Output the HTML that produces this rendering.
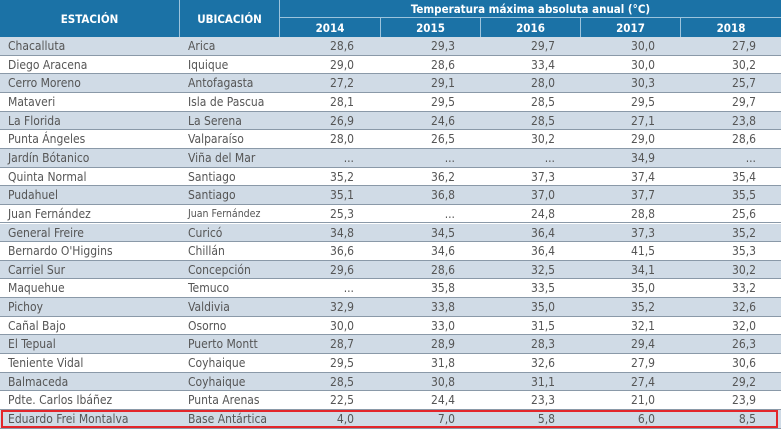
<!DOCTYPE html>
<html><head><meta charset="utf-8"><style>
body{margin:0;width:784px;height:431px;background:#fff;overflow:hidden;font-family:"DejaVu Sans Condensed","Liberation Sans",sans-serif;}
#t{position:absolute;left:0;top:0;width:784px;height:431px;}
.h{position:absolute;background:#1b72a6;color:#fff;font-weight:bold;font-size:11.5px;display:flex;align-items:center;justify-content:center;box-sizing:border-box;}
.r{position:absolute;left:0;width:781px;height:18.65px;box-sizing:border-box;border-bottom:1px solid #8a99a8;font-size:12px;color:#555;}
.r.s{background:#d0dbe6;}
.r span{position:absolute;top:2px;white-space:nowrap;}
.n{text-align:right;width:80px;}
</style></head><body><div id="t">
<div class="h" style="left:0;top:0;width:180px;height:37px;border-right:1px solid #9cc3dc">ESTACIÓN</div>
<div class="h" style="left:180px;top:0;width:100px;height:37px;border-right:1px solid #9cc3dc">UBICACIÓN</div>
<div class="h" style="left:280px;top:0;width:501px;height:18px;border-bottom:1px solid #9cc3dc">Temperatura máxima absoluta anual (°C)</div>
<div class="h" style="left:280px;top:18px;width:101px;height:19px;border-right:1px solid #9cc3dc">2014</div>
<div class="h" style="left:381px;top:18px;width:100px;height:19px;border-right:1px solid #9cc3dc">2015</div>
<div class="h" style="left:481px;top:18px;width:100px;height:19px;border-right:1px solid #9cc3dc">2016</div>
<div class="h" style="left:581px;top:18px;width:100px;height:19px;border-right:1px solid #9cc3dc">2017</div>
<div class="h" style="left:681px;top:18px;width:100px;height:19px;">2018</div>
<div id="rows"></div>
</div>
<script>
var d=[["Chacalluta","Arica","28,6","29,3","29,7","30,0","27,9"],
["Diego Aracena","Iquique","29,0","28,6","33,4","30,0","30,2"],
["Cerro Moreno","Antofagasta","27,2","29,1","28,0","30,3","25,7"],
["Mataveri","Isla de Pascua","28,1","29,5","28,5","29,5","29,7"],
["La Florida","La Serena","26,9","24,6","28,5","27,1","23,8"],
["Punta Ángeles","Valparaíso","28,0","26,5","30,2","29,0","28,6"],
["Jardín Bótanico","Viña del Mar","...","...","...","34,9","..."],
["Quinta Normal","Santiago","35,2","36,2","37,3","37,4","35,4"],
["Pudahuel","Santiago","35,1","36,8","37,0","37,7","35,5"],
["Juan Fernández","Juan Fernández","25,3","...","24,8","28,8","25,6"],
["General Freire","Curicó","34,8","34,5","36,4","37,3","35,2"],
["Bernardo O'Higgins","Chillán","36,6","34,6","36,4","41,5","35,3"],
["Carriel Sur","Concepción","29,6","28,6","32,5","34,1","30,2"],
["Maquehue","Temuco","...","35,8","33,5","35,0","33,2"],
["Pichoy","Valdivia","32,9","33,8","35,0","35,2","32,6"],
["Cañal Bajo","Osorno","30,0","33,0","31,5","32,1","32,0"],
["El Tepual","Puerto Montt","28,7","28,9","28,3","29,4","26,3"],
["Teniente Vidal","Coyhaique","29,5","31,8","32,6","27,9","30,6"],
["Balmaceda","Coyhaique","28,5","30,8","31,1","27,4","29,2"],
["Pdte. Carlos Ibáñez","Punta Arenas","22,5","24,4","23,3","21,0","23,9"],
["Eduardo Frei Montalva","Base Antártica","4,0","7,0","5,8","6,0","8,5"]];
var ends=[354,455,555,655,756],h="";
d.forEach(function(r,i){var top=37+i*18.65;
h+='<div class="r'+(i%2==0?' s':'')+'" style="top:'+top+'px">';
h+='<span style="left:8px">'+r[0]+'</span><span style="left:188px'+(i==9?';font-size:10.5px;top:3px':'')+'">'+r[1]+'</span>';
for(var j=0;j<5;j++)h+='<span class="n" style="left:'+(ends[j]-80)+'px">'+r[j+2]+'</span>';
h+='</div>';});
h+='<div style="position:absolute;left:1px;top:410px;width:777px;height:18px;border:2px solid #e3262b;box-sizing:border-box"></div>';
document.getElementById('rows').innerHTML=h;
</script></body></html>
